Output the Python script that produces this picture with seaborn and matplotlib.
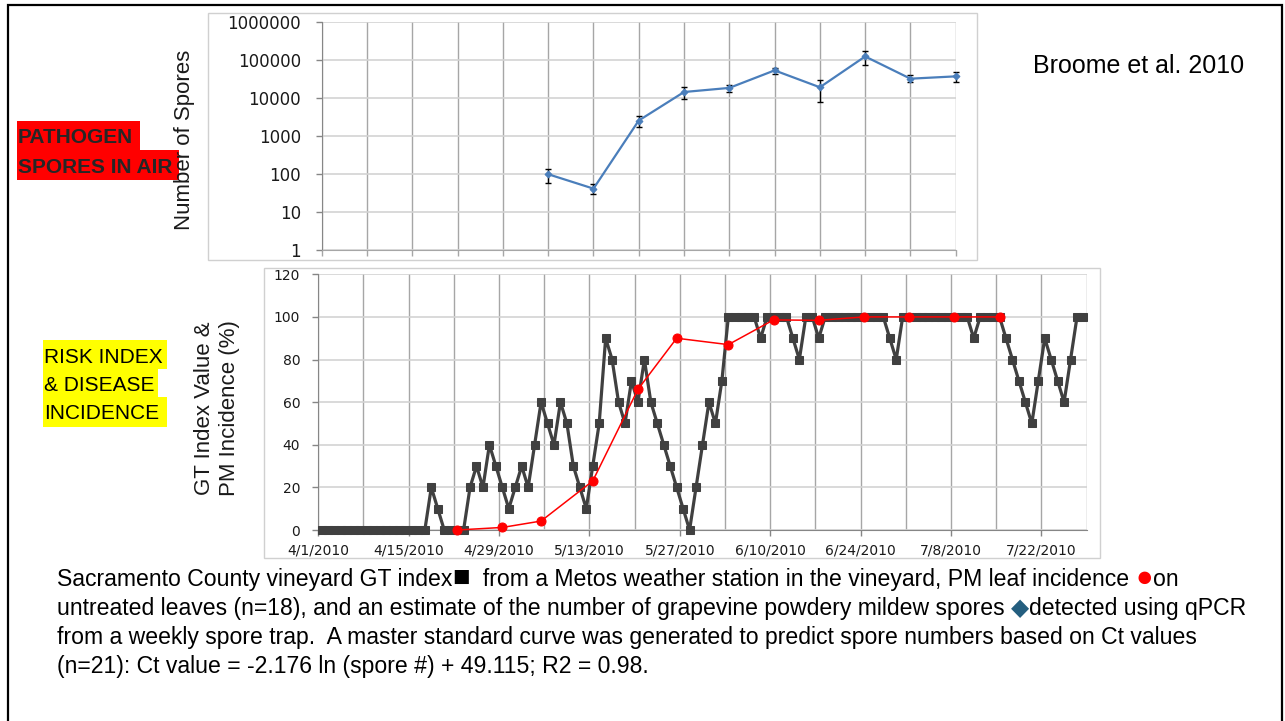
import pandas as pd
import matplotlib
matplotlib.use("Agg")
import matplotlib.pyplot as plt
import matplotlib.dates as mdates
from matplotlib.patches import Rectangle
from matplotlib.ticker import FixedLocator, FuncFormatter, NullLocator
import seaborn as sns

# --- data ---
# weekly spore trap, qPCR estimate (top panel, week slots 0..14)
spore_week = [5, 6, 7, 8, 9, 10, 11, 12, 13, 14]
spore_count = [98, 41, 2530, 14200, 18200, 52500, 18900, 122000, 31800, 36600]
spore_low = [56, 29, 1730, 9350, 14200, 43000, 7800, 74000, 25500, 26500]
spore_high = [138, 53, 3280, 18900, 22200, 60300, 29900, 165000, 39800, 46500]

# daily Gubler-Thomas risk index, starting 4/1/2010
gt_start = "2010-04-01"
gt_index = [
    0, 0, 0, 0, 0, 0, 0, 0, 0, 0, 0, 0, 0, 0, 0, 0, 0, 20, 10, 0,
    0, 0, 0, 20, 30, 20, 40, 30, 20, 10, 20, 30, 20, 40, 60, 50, 40, 60, 50, 30,
    20, 10, 30, 50, 90, 80, 60, 50, 70, 60, 80, 60, 50, 40, 30, 20, 10, 0, 20, 40,
    60, 50, 70, 100, 100, 100, 100, 100, 90, 100, 100, 100, 100, 90, 80, 100, 100, 90, 100, 100,
    100, 100, 100, 100, 100, 100, 100, 100, 90, 80, 100, 100, 100, 100, 100, 100, 100, 100, 100, 100,
    100, 90, 100, 100, 100, 100, 90, 80, 70, 60, 50, 70, 90, 80, 70, 60, 80, 100, 100,
]

# PM leaf incidence on untreated leaves (%)
pm_dates = ["2010-04-22", "2010-04-29", "2010-05-05", "2010-05-13", "2010-05-20",
            "2010-05-26", "2010-06-03", "2010-06-10", "2010-06-17", "2010-06-24",
            "2010-07-01", "2010-07-08", "2010-07-15"]
pm_incidence = [0, 1.2, 4.2, 23, 66, 90, 87, 98.6, 98.4, 100, 100, 100, 100]

W, H = 1285, 721
sns.set_style("white")
plt.rcParams["font.family"] = ["Liberation Sans", "DejaVu Sans"]


def fx(px):
    return px / W


def fy(py):
    return 1 - py / H


def box(x0, y0, x1, y1, **kw):
    # rectangle given in slide pixels (top-left origin)
    fig.add_artist(Rectangle((fx(x0), fy(y1)), fx(x1) - fx(x0), (y1 - y0) / H,
                             transform=fig.transFigure, **kw))


fig = plt.figure(figsize=(W / 100, H / 100), dpi=100)
fig.patch.set_facecolor("white")

# slide border and chart frames
box(8, 5, 1282, 730, fill=False, ec="black", lw=1.6)
box(208, 13, 977, 259.5, fill=False, ec="#D0D0D0", lw=1)
box(264, 268, 1100, 558, fill=False, ec="#D0D0D0", lw=1)

vgrid = "#A6A6A6"
hgrid = "#D3D3D3"

# ---------------- top panel: spores ----------------
ax1 = fig.add_axes([fx(321.8), fy(250), (955.7 - 321.8) / W, (250 - 21.7) / H])
lo = [c - l for c, l in zip(spore_count, spore_low)]
hi = [h - c for c, h in zip(spore_count, spore_high)]
ax1.errorbar(spore_week, spore_count, yerr=[lo, hi], fmt="none", ecolor="black",
             elinewidth=1, capsize=2, capthick=1, zorder=3, clip_on=False)
sns.lineplot(x=spore_week, y=spore_count, ax=ax1, color="#4A7EBB", linewidth=1.6,
             marker="D", markersize=3.5, markeredgecolor="#4A7EBB", errorbar=None,
             zorder=4, clip_on=False)
ax1.set_yscale("log")
ax1.set_ylim(1, 1e6)
ax1.set_xlim(0, 14)
ax1.yaxis.set_major_locator(FixedLocator([1, 10, 100, 1000, 1e4, 1e5, 1e6]))
ax1.yaxis.set_minor_locator(NullLocator())
ax1.yaxis.set_major_formatter(FuncFormatter(lambda v, p: f"{int(round(v))}"))
ax1.xaxis.set_major_locator(FixedLocator(range(0, 15)))
ax1.set_xticklabels([])
ax1.grid(True, axis="x", color=vgrid, lw=1)
ax1.grid(True, axis="y", color=hgrid, lw=1.2)
ax1.tick_params(axis="y", length=4, width=1, color="#868686", pad=11, labelsize=12,
                labelcolor="#1A1A1A", left=True)
ax1.tick_params(axis="x", length=4, width=1, color=vgrid, bottom=True)
for lab in ax1.get_yticklabels():
    lab.set_family("DejaVu Sans")
for side in ["top", "right"]:
    ax1.spines[side].set_visible(False)
ax1.spines["left"].set_color("#868686")
ax1.spines["bottom"].set_color("#A6A6A6")
ax1.set_xlabel("")
ax1.set_ylabel("")

# ---------------- bottom panel: GT index & incidence ----------------
ax2 = fig.add_axes([fx(318.3), fy(530), (1086.7 - 318.3) / W, (530 - 274.3) / H])
gt_dates = pd.date_range(gt_start, periods=len(gt_index), freq="D")
half_day = pd.Timedelta(hours=12)
sns.lineplot(x=gt_dates + half_day, y=gt_index, ax=ax2, color="#404040", linewidth=2.3,
             marker="s", markersize=5.5, markeredgecolor="#404040", errorbar=None,
             zorder=3, clip_on=False)
sns.lineplot(x=pd.to_datetime(pm_dates) + half_day, y=pm_incidence, ax=ax2, color="#FF0000",
             linewidth=1.1, marker="o", markersize=6.5, markeredgecolor="#FF0000",
             errorbar=None, zorder=4, clip_on=False)
ax2.set_xlim(pd.Timestamp("2010-04-01"), pd.Timestamp("2010-07-29"))
ax2.set_ylim(0, 120)
weeks = mdates.date2num(pd.date_range("2010-04-01", "2010-07-29", freq="7D"))
fortnights = mdates.date2num(pd.date_range("2010-04-01", "2010-07-22", freq="14D"))
ax2.xaxis.set_major_locator(FixedLocator(fortnights))
ax2.xaxis.set_minor_locator(FixedLocator(weeks))


def date_label(v, pos):
    d = mdates.num2date(v)
    return f"{d.month}/{d.day}/{d.year}"


ax2.xaxis.set_major_formatter(FuncFormatter(date_label))
ax2.yaxis.set_major_locator(FixedLocator(range(0, 121, 20)))
ax2.grid(True, which="minor", axis="x", color=vgrid, lw=1)
ax2.grid(True, which="major", axis="x", color=vgrid, lw=1)
ax2.grid(True, axis="y", color=hgrid, lw=1.2)
ax2.tick_params(axis="x", which="major", length=4, width=1, color="#868686", pad=6,
                labelsize=10, labelcolor="#1A1A1A", bottom=True)
ax2.tick_params(axis="x", which="minor", length=0)
ax2.tick_params(axis="y", length=4, width=1, color="#868686", pad=9, labelsize=10,
                labelcolor="#1A1A1A", left=True)
for lab in ax2.get_xticklabels() + ax2.get_yticklabels():
    lab.set_family("DejaVu Sans")
for side in ["top", "right"]:
    ax2.spines[side].set_visible(False)
ax2.spines["left"].set_color("#868686")
ax2.spines["bottom"].set_color("#868686")
ax2.set_xlabel("")
ax2.set_ylabel("")

# ---------------- slide text ----------------
fig.text(fx(184.5), fy(140), "Number of Spores", rotation=90, ha="center", va="center",
         fontsize=16, color="#1A1A1A")
fig.text(fx(217), fy(408), "GT Index Value &\nPM Incidence (%)", rotation=90, ha="center",
         va="center", fontsize=16, linespacing=1.25, color="#1A1A1A")

# highlighted side labels
box(17, 121, 140, 150.5, color="#FF0000", lw=0)
box(17, 150, 179, 180, color="#FF0000", lw=0)
fig.text(fx(18), fy(143.3), "PATHOGEN", fontsize=15, weight="bold", va="baseline")
fig.text(fx(18), fy(172.7), "SPORES IN AIR", fontsize=15, weight="bold", va="baseline")

box(43, 340, 167, 368.5, color="#FFFF00", lw=0)
box(43, 368, 158, 397.5, color="#FFFF00", lw=0)
box(43, 397, 167, 427, color="#FFFF00", lw=0)
for txt, base in [("RISK INDEX", 362.6), ("& DISEASE", 390.6), ("INCIDENCE", 419)]:
    fig.text(fx(44), fy(base), txt, fontsize=15, va="baseline", color="black")

fig.text(fx(1033), fy(73), "Broome et al. 2010", fontsize=18, va="baseline", color="black")

renderer = fig.canvas.get_renderer()


def put_runs(x_px, base_px, runs, size=16.6):
    x = fx(x_px)
    for run in runs:
        s, c = run[0], run[1]
        fs = run[2] if len(run) > 2 else size
        t = fig.text(x, fy(base_px), s, color=c, fontsize=fs, va="baseline", ha="left")
        bb = t.get_window_extent(renderer=renderer)
        x = bb.x1 / fig.bbox.width


put_runs(57, 586, [("Sacramento County vineyard GT index", "black"), ("\u25A0", "black", 21),
                   ("  from a Metos weather station in the vineyard, PM leaf incidence ", "black"),
                   ("\u25CF", "#FF0000", 21), ("on", "black")])
put_runs(57, 615, [("untreated leaves (n=18), and an estimate of the number of grapevine powdery "
                    "mildew spores ", "black"), ("\u25C6", "#245E7F", 17),
                   ("detected using qPCR", "black")])
put_runs(57, 644, [("from a weekly spore trap.  A master standard curve was generated to predict "
                    "spore numbers based on Ct values", "black")])
put_runs(57, 673, [("(n=21): Ct value = -2.176 ln (spore #) + 49.115; R2 = 0.98.", "black")])

fig.savefig("out.png", dpi=100, facecolor="white")
